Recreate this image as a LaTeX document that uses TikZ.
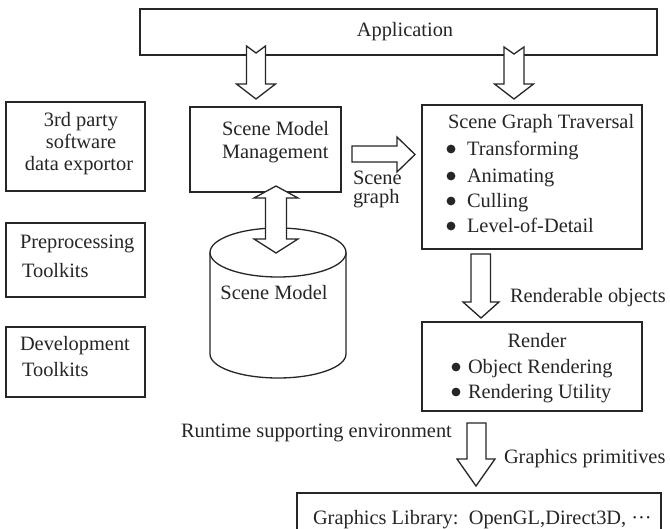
\documentclass[tikz,border=0pt]{standalone}
\usepackage{fontspec}
\setmainfont{Liberation Serif}
\begin{document}
\begin{tikzpicture}[x=1pt,y=-1pt,
  line width=1.3pt,
  every node/.style={inner sep=0pt,outer sep=0pt,text=black!85,font=\fontsize{20.4}{24}\selectfont},
  box/.style={draw=black!85,rectangle},
  blockarrow/.style={draw=black!85,fill=white,line width=1.3pt,line join=miter},
  lbl/.style={anchor=base west},
  lblc/.style={anchor=base}]
\useasboundingbox (0,0) rectangle (670,529);
\clip (0,0) rectangle (670,529);
\fill[white] (0,0) rectangle (670,529);

% boxes
\node[box,minimum width=517pt,minimum height=46pt] (app) at (398.5,32) {};
\node[box,minimum width=139pt,minimum height=89pt] (tp) at (75.5,146.5) {};
\node[box,minimum width=139pt,minimum height=74pt] (pre) at (75.5,260) {};
\node[box,minimum width=139pt,minimum height=70pt] (dev) at (75.5,362) {};
\node[box,minimum width=151pt,minimum height=85pt] (smm) at (265.5,149.5) {};
\node[box,minimum width=220pt,minimum height=144pt] (sgt) at (532,177) {};
\node[box,minimum width=220pt,minimum height=89pt] (ren) at (532,366.5) {};
\node[box,minimum width=364pt,minimum height=60pt] (gl) at (479,523) {};

% cylinder (scene model)
\draw[black!85] (210,252.5) -- (210,354)
  .. controls (210,367.3) and (240.4,378) .. (278,378)
  .. controls (315.6,378) and (346,367.3) .. (346,354) -- (346,252.5);
\draw[black!85] (278,252.5) ellipse [x radius=68pt, y radius=24.5pt];
\node[lblc] (cyl) at (274,300) {Scene Model};

% texts
\node[lblc] (apptxt) at (405,37) {Application};
\node[lblc] (tp1) at (81,127) {3rd party};
\node[lblc] (tp2) at (81,149) {software};
\node[lblc] (tp3) at (79,171) {data exportor};
\node[lbl] (pre1) at (20,249) {Preprocessing};
\node[lbl] (pre2) at (22,278) {Toolkits};
\node[lbl] (dev1) at (20,351) {Development};
\node[lbl] (dev2) at (22,377) {Toolkits};
\node[lbl] (smm1) at (222,136) {Scene Model};
\node[lbl] (smm2) at (222,159) {Management};
\node[lbl] (sg1) at (353,185) {Scene};
\node[lbl] (sg2) at (353,204) {graph};
\node[lbl] (sgt0) at (448,129) {Scene Graph Traversal};
\node[lbl] (sgt1) at (467,156) {Transforming};
\node[lbl] (sgt2) at (467,183) {Animating};
\node[lbl] (sgt3) at (467,208) {Culling};
\node[lbl] (sgt4) at (467,233) {Level-of-Detail};
\foreach \yy in {149,176,201,226} \fill[black!85] (451,\yy) circle[radius=4.4pt];
\node[lbl] (robj) at (510,303) {Renderable objects};
\node[lblc] (ren0) at (537,348) {Render};
\node[lbl] (ren1) at (468,374) {Object Rendering};
\node[lbl] (ren2) at (468,399) {Rendering Utility};
\foreach \yy in {367,392} \fill[black!85] (456,\yy) circle[radius=4.4pt];
\node[lbl] (rt) at (181,438) {Runtime supporting environment};
\node[lbl] (gp) at (504,464) {Graphics primitives};
\node[lbl] (gltxt) at (313,524) {Graphics Library:\ \ OpenGL,Direct3D, ···};

% block arrows
\draw[blockarrow] (246.5,46) -- (256,53) -- (265.5,46) -- (265.5,84) -- (275.5,84) -- (256,99) -- (236.5,84) -- (246.5,84) -- cycle;
\draw[blockarrow] (504,47) -- (514,54) -- (524,47) -- (524,84) -- (533.5,84) -- (514,99) -- (494.5,84) -- (504,84) -- cycle;
\draw[blockarrow] (352,146) -- (397,146) -- (397,137) -- (415,154.5) -- (397,172) -- (397,162) -- (352,162) -- cycle;
\draw[blockarrow] (276,186) -- (298,198) -- (286.5,198) -- (286.5,239) -- (298,239) -- (276,253) -- (254,239) -- (265.5,239) -- (265.5,198) -- (254,198) -- cycle;
\draw[blockarrow] (471,254) -- (490.5,254) -- (490.5,302) -- (499,302) -- (481,318) -- (463,302) -- (471,302) -- cycle;
\draw[blockarrow] (467,423) -- (486,423) -- (486,459) -- (495,459) -- (476,486) -- (457,459) -- (467,459) -- cycle;
\end{tikzpicture}
\end{document}
